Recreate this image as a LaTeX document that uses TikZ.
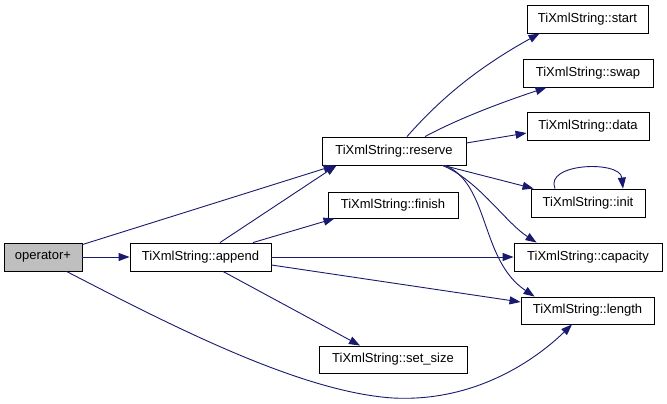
\documentclass[tikz,border=0pt]{standalone}
\usepackage{fontspec}
\setmainfont{Liberation Sans}
\usetikzlibrary{arrows.meta,calc}
\definecolor{edgeblue}{HTML}{191970}
\definecolor{rootgray}{HTML}{BFBFBF}
\begin{document}
\begin{tikzpicture}[x=1pt,y=-1pt,
  box/.style={draw=black, line width=0.9pt, inner sep=0pt, minimum height=27pt,
    font=\fontsize{13}{15}\selectfont, fill=white},
  rootbox/.style={box, fill=rootgray},
  edge/.style={draw=edgeblue, line width=0.9pt, -{Triangle[length=11pt,width=8pt]}}]
\useasboundingbox (0,0) rectangle (667,404);
\fill[white] (0,0) rectangle (667,404);

\node[rootbox, minimum width=78pt, minimum height=28pt] (op) at (43,257) {operator+};
\node[box, minimum width=141pt, minimum height=28pt] (append) at (200.5,257) {TiXmlString::append};
\node[box, minimum width=144pt, minimum height=28pt] (reserve) at (394,151) {TiXmlString::reserve};
\node[box, minimum width=130pt, minimum height=26pt] (finish) at (393,205) {TiXmlString::finish};
\node[box, minimum width=148pt] (setsize) at (393,359.5) {TiXmlString::set\_size};
\node[box, minimum width=121pt, minimum height=28pt] (start) at (587.5,19) {TiXmlString::start};
\node[box, minimum width=130pt, minimum height=28pt] (swap) at (588,73) {TiXmlString::swap};
\node[box, minimum width=122pt, minimum height=28pt] (data) at (588,126) {TiXmlString::data};
\node[box, minimum width=114pt, minimum height=28pt] (init) at (588,203) {TiXmlString::init};
\node[box, minimum width=148pt, minimum height=28pt] (capacity) at (588,257) {TiXmlString::capacity};
\node[box, minimum width=133pt] (length) at (587.5,310.5) {TiXmlString::length};

% operator+ edges
\draw[edge] ($(op.north east)+(0,2)$) -- ($(reserve.south west)+(13,0)$);
\draw[edge] (op.east) -- (append.west);
\draw[edge] ($(op.south west)+(63,0)$) .. controls (170,325) and (300,392) .. (393,398)
  .. controls (470,402) and (530,365) .. ($(length.south)+(-15.5,0)$);

% append edges
\draw[edge] ($(append.north)+(19.5,0)$) -- ($(reserve.south west)+(15,0)$);
\draw[edge] ($(append.north)+(52.5,0)$) -- ($(finish.south west)+(7,0)$);
\draw[edge] (append.east) -- (capacity.west);
\draw[edge] ($(append.east)+(0,8)$) -- ($(length.west)+(0,-8.5)$);
\draw[edge] ($(append.south)+(22.5,0)$) -- ($(setsize.north)+(-33,0)$);

% reserve edges
\draw[edge] ($(reserve.north)+(13,0)$) .. controls (435,105) and (470,72) .. ($(start.south west)+(13,0)$);
\draw[edge] ($(reserve.north)+(31,0)$) .. controls (460,118) and (500,103) .. ($(swap.south west)+(24,0)$);
\draw[edge] ($(reserve.east)+(0,-8)$) -- ($(data.west)+(0,7)$);
\draw[edge] ($(reserve.south east)+(-23,0)$) -- ($(init.north west)+(3,0)$);
\draw[edge] ($(reserve.south east)+(-24,0)$) .. controls (478,180) and (505,222) .. ($(capacity.north west)+(23,0)$);
\draw[edge] ($(reserve.south east)+(-21,0)$) .. controls (490,185) and (480,260) .. ($(length.north west)+(14,0)$);

% init self loop
\draw[edge] ($(init.north)+(-33,0)$) .. controls (544,163) and (620,160) .. ($(init.north)+(35,0)$);
\end{tikzpicture}
\end{document}
